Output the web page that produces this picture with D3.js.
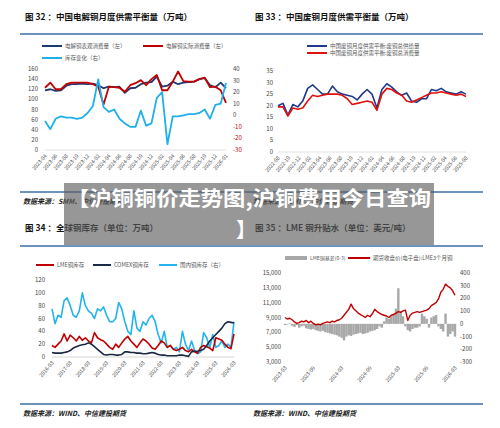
<!DOCTYPE html>
<html><head><meta charset="utf-8">
<script src="https://cdn.jsdelivr.net/npm/d3@7/dist/d3.min.js"></script>
<style>body{margin:0;background:#fff}svg{display:block;font-family:"Noto Sans CJK SC","Noto Sans",sans-serif}</style>
</head><body><svg id="c" width="500" height="428"></svg>
<script>
// ---------- Panel 32 data (2023-04 .. 2026-01 monthly) ----------
const ticks32 = ["2023-04","2023-06","2023-08","2023-10","2023-12","2024-02","2024-04","2024-06","2024-08","2024-10","2024-12","2025-02","2025-04","2025-06","2025-08","2025-10","2025-12","2026-01"];
const appCons32 = [118,120,117,118,127,130,130,131,130,131,128,122,125,124,125,113,122,123,130,133,134,145,125,127,135,130,133,134,135,140,142,128,124,133,122];
const actCons32 = [123,133,120,120,130,133,133,133,133,130,125,90,125,124,123,115,128,132,138,128,140,148,118,118,135,155,136,135,135,140,143,124,125,118,93];
const invChg32 = [-5,-12,-3,-1,-2,-2,-3,-2,2,8,31,7,3,5,-3,-7,-10,-10,4,-9,-7,15,20,-25,-1,-1,0,1,1,2,5,-3,9,10,28];
// ---------- Panel 33 data (2022-08 .. 2025-08 monthly) ----------
const ticks33 = ["2022-08","2022-10","2022-12","2023-02","2023-04","2023-06","2023-08","2023-10","2023-12","2024-02","2024-04","2024-06","2024-08","2024-10","2024-12","2025-02","2025-04","2025-06","2025-08"];
const supply33 = [20,21,16,20.5,19.5,22,27.5,29,27,25,25,28.5,26,25,24.5,24,22.5,25,27,25,19,27,29.5,28,26,24.5,25.5,22,21.5,23,23,27,26.5,27.5,26,25.5,25,26,25];
const demand33 = [19.5,19.5,15.5,19,18.5,19,22,24.5,24,24.5,25,25,25,24.5,23,20.5,21,21.5,22,21.5,18,25,27.5,27,25.5,24.5,22,21.5,22.5,23.5,24.5,25.5,25.5,26,25.5,25,24.5,25,24];
// ---------- Panel 34 data (2016-03 .. 2026-03, bimonthly) ----------
const ticks34 = ["2016-03","2017-03","2018-03","2019-03","2020-03","2021-03","2022-03","2023-03","2024-03","2025-03","2026-03"];
const lme34 = [18,15,20,25,36,25,34,30,25,32,26,30,25,22,38,30,27,25,20,15,12,20,15,22,28,32,25,20,15,22,28,25,20,14,12,18,25,22,15,18,12,10,12,15,10,8,12,8,6,15,18,16,14,10,30,28,26,20,15,13,36];
const comex34 = [7,6,6,6,7,8,10,14,16,18,19,20,22,20,16,12,8,4,3,4,4,3,3,4,8,8,7,7,6,6,5,5,6,7,6,4,3,3,2,2,2,2,3,3,2,1,8,9,9,10,12,18,25,30,35,40,45,52,55,54,53];
const cn34 = [75,52,65,62,88,92,80,65,62,72,100,80,72,68,60,75,72,78,65,55,55,60,85,75,55,40,35,72,45,40,55,50,60,65,55,35,22,40,15,18,12,15,8,40,20,10,25,10,5,8,38,30,15,35,15,18,25,15,20,15,55];
// ---------- Panel 35 data (2023-03 .. 2026-03, half-monthly) ----------
const ticks35 = ["2023-03","2023-09","2024-03","2024-09","2025-03","2025-09","2026-03"];
const price35 = [9000,8800,8900,8700,8400,8200,8300,8500,8400,8600,8300,8500,8200,8000,8100,8000,8200,8300,8400,8300,8500,8400,8600,8700,8900,9300,9700,10100,10800,10200,9900,9600,9400,9200,9000,9300,9100,9500,10100,9800,9600,9400,9300,9200,9000,9300,9400,9600,9800,9700,9900,10000,8600,9300,9600,9700,9800,9700,9800,9900,10000,10200,10600,10800,11000,11500,12400,12800,13500,13200,13000,12600,12000];
const spread35 = [-10,-5,5,-15,-25,-10,-30,-20,-15,-35,-40,-45,-40,-50,-55,-60,-55,-65,-70,-75,-80,-85,-90,-100,-110,-130,-100,-90,-95,-85,-80,-75,-70,-80,-75,-70,-60,-55,-50,-40,-20,-30,20,50,40,60,80,120,280,100,60,-20,-50,-60,-40,-30,-30,-20,80,60,40,-30,50,60,70,-20,-40,-60,80,-100,-80,-60,-100];

const svg = d3.select("#c");
const FONT = '"Noto Sans CJK SC","Noto Sans",sans-serif';
const RULE = "#3c6fa6";

function frame(x0,x1,title,titleY,ruleY,botY,src){
  svg.append("text").attr("x",x0+5).attr("y",titleY).attr("font-size",8.5).attr("font-weight","bold").attr("fill","#111").text(title);
  svg.append("line").attr("x1",x0).attr("x2",x1).attr("y1",ruleY).attr("y2",ruleY).attr("stroke",RULE).attr("stroke-width",1.3);
  svg.append("line").attr("x1",x0).attr("x2",x1).attr("y1",botY).attr("y2",botY).attr("stroke",RULE).attr("stroke-width",1.3);
  svg.append("text").attr("x",x0+3).attr("y",botY+12).attr("font-size",7).attr("font-style","italic").attr("font-weight","bold").attr("fill","#222").text(src);
}
function yAxis(scale,x,vals,fmt,anchor,colorFn){
  vals.forEach(v=>{
    svg.append("text").attr("x",x).attr("y",scale(v)+2).attr("font-size",6).attr("text-anchor",anchor)
      .attr("fill",colorFn?colorFn(v):"#444").text(fmt?fmt(v):v);
  });
}
function xLabels(pos,labels,y){
  labels.forEach((l,i)=>{
    const x=pos(i);
    svg.append("text").attr("transform",`translate(${x+2},${y}) rotate(-50)`).attr("font-size",5.2)
      .attr("text-anchor","end").attr("fill","#444").text(l);
  });
}
function line(xs,ys,data,color,w){
  svg.append("path").datum(data).attr("fill","none").attr("stroke",color).attr("stroke-width",w)
    .attr("stroke-linejoin","round").attr("d",d3.line().x((d,i)=>xs(i)).y(d=>ys(d)));
}
function legendItem(x,y,color,label,w){
  svg.append("line").attr("x1",x).attr("x2",x+w).attr("y1",y).attr("y2",y).attr("stroke",color).attr("stroke-width",2);
  svg.append("text").attr("x",x+w+3).attr("y",y+2).attr("font-size",5.5).attr("fill","#555").text(label);
}

// ===== Panel 32 =====
frame(20,250,"图 32 ：中国电解铜月度供需平衡量（万吨）",20,34,192,"数据来源：SMM、中信建投期货");
{
  const x=d3.scaleLinear().domain([0,appCons32.length-1]).range([45,226]);
  const y=d3.scaleLinear().domain([0,160]).range([150,69]);
  const y2=d3.scaleLinear().domain([-30,40]).range([150,69]);
  yAxis(y,38,d3.range(0,161,20),null,"end");
  yAxis(y2,233,d3.range(-30,41,10),null,"start",v=>v<0?"#c00000":"#444");
  svg.append("line").attr("x1",45).attr("x2",226).attr("y1",150).attr("y2",150).attr("stroke","#ccc").attr("stroke-width",0.6);
  const tx=d3.scaleLinear().domain([0,ticks32.length-1]).range([45,226]);
  xLabels(tx,ticks32,156);
  line(x,y,appCons32,"#1f3a73",1.8);
  line(x,y,actCons32,"#c00000",1.8);
  line(x,y2,invChg32,"#1fb0ec",1.8);
  legendItem(42,46,"#1f3a73","电解铜表观消费量（左）",20);
  legendItem(143,46,"#c00000","电解铜实际消费量（左）",20);
  legendItem(42,58,"#1fb0ec","库存变化（右）",20);
}

// ===== Panel 33 =====
frame(250,483,"图 33 ：中国废铜月度供需平衡量（万吨）",20,34,192,"数据来源：SMM、中信建投期货");
{
  const x=d3.scaleLinear().domain([0,supply33.length-1]).range([278,466]);
  const y=d3.scaleLinear().domain([0,35]).range([152,71]);
  yAxis(y,273,d3.range(0,36,5),null,"end");
  svg.append("line").attr("x1",278).attr("x2",466).attr("y1",152).attr("y2",152).attr("stroke","#ccc").attr("stroke-width",0.6);
  const tx=d3.scaleLinear().domain([0,ticks33.length-1]).range([278,466]);
  xLabels(tx,ticks33,158);
  line(x,y,supply33,"#1f3a8a",1.6);
  line(x,y,demand33,"#e01010",1.6);
  legendItem(307,46,"#1f3a8a","中国废铜月度供需平衡:废铜总供给量",20);
  legendItem(307,53,"#e01010","中国废铜月度供需平衡:废铜总消费量",20);
}

// ===== Panel 34 =====
frame(20,250,"图 34 ：全球铜库存（单位：万吨）",231,246,404,"数据来源：WIND、中信建投期货");
{
  const x=d3.scaleLinear().domain([0,cn34.length-1]).range([52,234]);
  const y=d3.scaleLinear().domain([0,120]).range([357,280]);
  yAxis(y,45,d3.range(0,121,20),null,"end");
  svg.selectAll(null);
  d3.range(0,121,20).forEach(v=>{});
  svg.append("line").attr("x1",52).attr("x2",234).attr("y1",357).attr("y2",357).attr("stroke","#bbb").attr("stroke-width",0.6);
  const tx=d3.scaleLinear().domain([0,ticks34.length-1]).range([52,234]);
  xLabels(tx,ticks34,363);
  line(x,y,cn34,"#22b4ee",1.6);
  line(x,y,lme34,"#c00000",1.6);
  line(x,y,comex34,"#1a2a44",1.6);
  legendItem(36,265,"#c00000","LME铜库存",18);
  legendItem(93,265,"#1a2a44","COMEX铜库存",18);
  legendItem(159,265,"#22b4ee","国内铜库存（右）",18);
}

// ===== Panel 35 =====
frame(250,483,"图 35 ：LME 铜升贴水（单位：美元/吨）",231,246,404,"数据来源：WIND、中信建投期货");
{
  const x=d3.scaleLinear().domain([0,price35.length-1]).range([285,455]);
  const y=d3.scaleLinear().domain([3000,15000]).range([362,273]);
  const y2=d3.scaleLinear().domain([-300,400]).range([362,273]);
  yAxis(y,281,d3.range(3000,15001,2000),d3.format(","),"end");
  yAxis(y2,460,d3.range(-300,401,100),null,"start");
  const bx=d3.scaleLinear().domain([0,spread35.length-1]).range([285,455]);
  svg.append("g").selectAll("rect").data(spread35).join("rect")
    .attr("x",(d,i)=>bx(i)-1.2).attr("width",2.4)
    .attr("y",d=>Math.min(y2(d),y2(0))).attr("height",d=>Math.abs(y2(d)-y2(0)))
    .attr("fill","#a8a8a8");
  const tx=d3.scaleLinear().domain([0,ticks35.length-1]).range([285,455]);
  xLabels(tx,ticks35,368);
  line(x,y,price35,"#c00000",1.4);
  svg.append("rect").attr("x",285).attr("y",256).attr("width",22).attr("height",4).attr("fill","#a8a8a8");
  svg.append("text").attr("x",310).attr("y",260).attr("font-size",5).attr("fill","#555").text("LME铜基差(0-3)");
  legendItem(348,258,"#c00000","期货收盘价(电子盘):LME3个月铜",22);
}

// ===== Banner overlay =====
svg.append("rect").attr("x",64).attr("y",183).attr("width",370).attr("height",31).attr("fill","rgba(95,95,95,0.65)");
svg.append("rect").attr("x",64).attr("y",214).attr("width",370).attr("height",31).attr("fill","rgba(95,95,95,0.65)");
svg.append("text").attr("x",67).attr("y",206).attr("font-size",20).attr("font-weight","bold").attr("fill","#fff")
  .attr("textLength",364).attr("lengthAdjust","spacingAndGlyphs").text("【沪铜铜价走势图,沪铜费用今日查询");
svg.append("text").attr("x",236).attr("y",237).attr("font-size",20).attr("font-weight","bold").attr("fill","#fff").text("】");
</script></body></html>
